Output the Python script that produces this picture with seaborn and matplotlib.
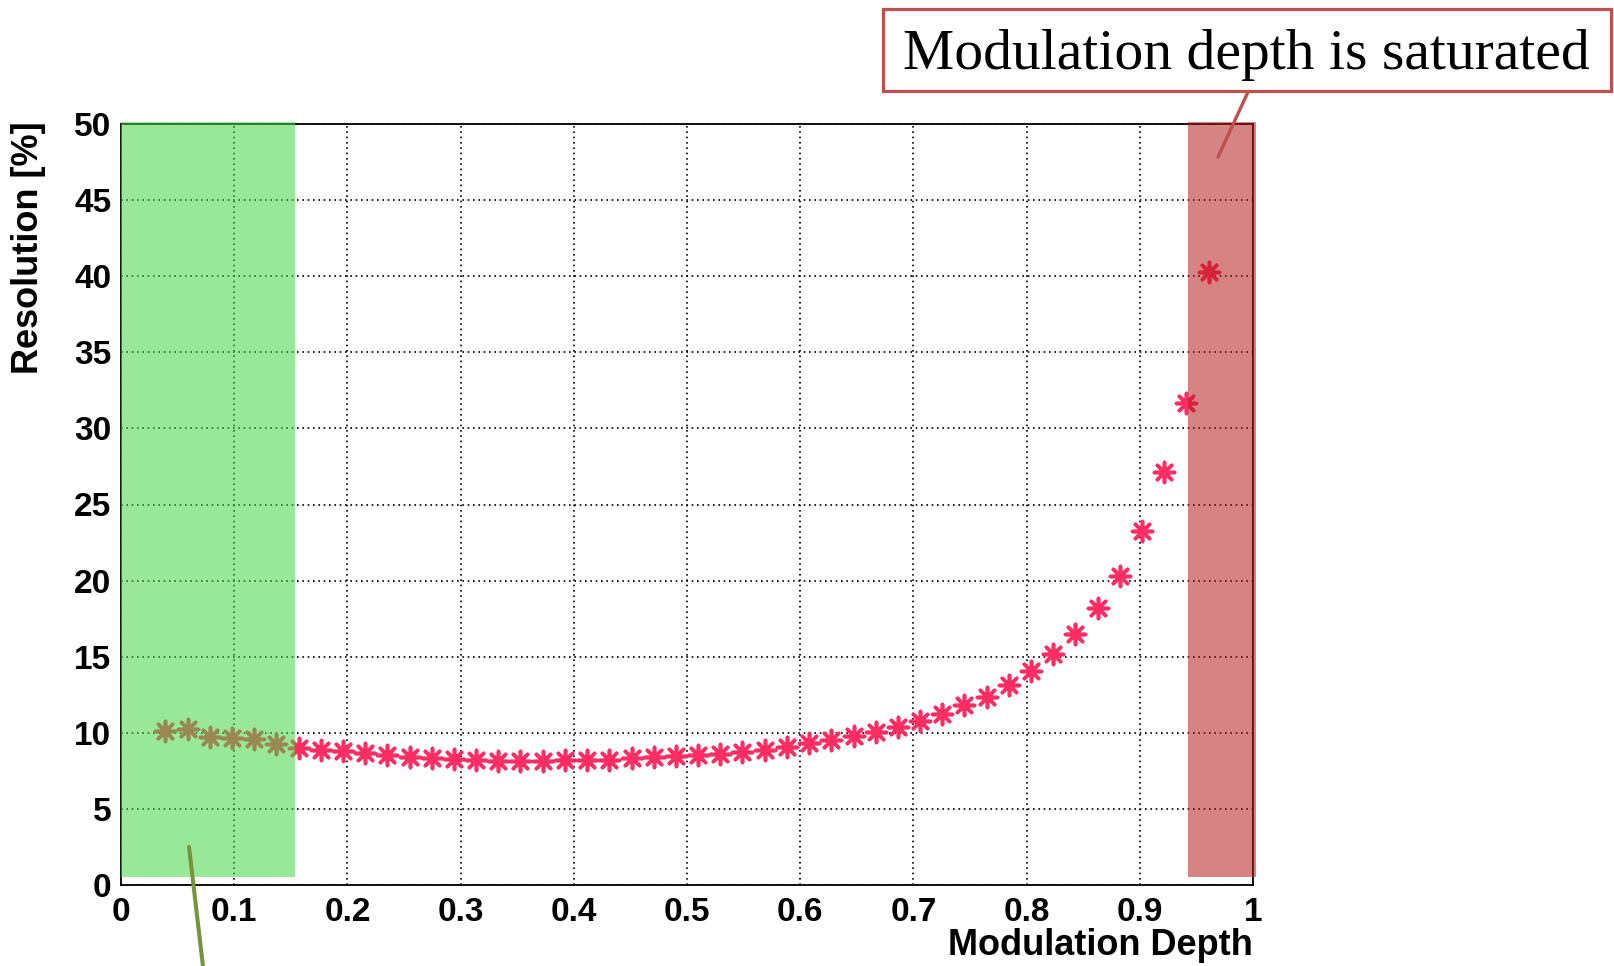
import matplotlib
matplotlib.use("Agg")
import matplotlib.pyplot as plt
from matplotlib.patches import Rectangle
from matplotlib.lines import Line2D
from matplotlib.ticker import FixedLocator, MultipleLocator
import pandas as pd
import seaborn as sns

# ---------------- data ----------------
modulation_depth = [0.0392, 0.0588, 0.0784, 0.0980, 0.1176, 0.1373, 0.1569, 0.1765,
                    0.1961, 0.2157, 0.2353, 0.2549, 0.2745, 0.2941, 0.3137, 0.3333,
                    0.3529, 0.3725, 0.3922, 0.4118, 0.4314, 0.4510, 0.4706, 0.4902,
                    0.5098, 0.5294, 0.5490, 0.5686, 0.5882, 0.6078, 0.6275, 0.6471,
                    0.6667, 0.6863, 0.7059, 0.7255, 0.7451, 0.7647, 0.7843, 0.8039,
                    0.8235, 0.8431, 0.8627, 0.8824, 0.9020, 0.9216, 0.9412, 0.9608]
resolution = [10.13, 10.22, 9.73, 9.63, 9.58, 9.25, 8.97, 8.85,
              8.79, 8.67, 8.52, 8.41, 8.37, 8.29, 8.23, 8.14,
              8.18, 8.18, 8.19, 8.21, 8.23, 8.34, 8.41, 8.45,
              8.52, 8.63, 8.77, 8.90, 9.07, 9.30, 9.52, 9.78,
              10.07, 10.40, 10.80, 11.24, 11.84, 12.35, 13.17, 14.05,
              15.16, 16.47, 18.18, 20.30, 23.26, 27.15, 31.65, 40.30]
x_ticks = [0, 0.1, 0.2, 0.3, 0.4, 0.5, 0.6, 0.7, 0.8, 0.9, 1.0]
x_tick_labels = ["0", "0.1", "0.2", "0.3", "0.4", "0.5", "0.6", "0.7", "0.8", "0.9", "1"]
y_ticks = [0, 5, 10, 15, 20, 25, 30, 35, 40, 45, 50]
y_tick_labels = ["0", "5", "10", "15", "20", "25", "30", "35", "40", "45", "50"]
x_title = "Modulation Depth"
y_title = "Resolution [%]"
callout_text = "Modulation depth is saturated"
low_region = (0.0, 0.1534)          # green shaded band (x range)
saturated_region = (0.9424, 1.003)  # red shaded band (x range)

df = pd.DataFrame({"depth": modulation_depth, "res": resolution})

# ---------------- style ----------------
sns.set_style("white")
plt.rcParams["font.family"] = ["Liberation Sans", "DejaVu Sans"]
plt.rcParams["text.color"] = "black"
plt.rcParams["axes.labelcolor"] = "black"
plt.rcParams["xtick.color"] = "black"
plt.rcParams["ytick.color"] = "black"

W, H = 1614, 966
fig = plt.figure(figsize=(W / 100, H / 100), dpi=100)
ax = fig.add_axes([121 / W, 1 - 885 / H, 1132 / W, 761 / H])

sns.scatterplot(data=df, x="depth", y="res", ax=ax, marker=(8, 2, 0),
                color="#ff2d62", s=210, linewidth=2.6, zorder=4, legend=False)

ax.set_xlim(0, 1)
ax.set_ylim(0, 50)

ax.xaxis.set_major_locator(FixedLocator(x_ticks))
ax.set_xticklabels(x_tick_labels)
ax.xaxis.set_minor_locator(MultipleLocator(0.02))
ax.yaxis.set_major_locator(FixedLocator(y_ticks))
ax.set_yticklabels(y_tick_labels)
ax.yaxis.set_minor_locator(MultipleLocator(1))

for lab in ax.get_xticklabels() + ax.get_yticklabels():
    lab.set_fontweight("bold")
    lab.set_fontsize(24)
    lab.set_color("black")

ax.tick_params(axis="x", which="major", direction="in", length=18, width=1.0,
               color="black", labelcolor="black", pad=8.5)
ax.tick_params(axis="x", which="minor", direction="in", length=8, width=1.0, color="black")
ax.tick_params(axis="y", which="major", direction="in", length=24, width=1.0,
               color="black", labelcolor="black", pad=7)
ax.tick_params(axis="y", which="minor", direction="in", length=13, width=1.0, color="black")

ax.grid(True, which="major", color="black", linestyle=(0, (1, 2.2)), linewidth=1.2)

for sp in ax.spines.values():
    sp.set_visible(True)
    sp.set_color("black")
    sp.set_linewidth(1.3)

ax.set_xlabel(x_title, fontsize=26, fontweight="bold", loc="right", color="black")
ax.xaxis.set_label_coords(1.0, -0.057)
ax.xaxis.label.set_verticalalignment("top")
ax.set_ylabel(y_title, fontsize=26, fontweight="bold", loc="top", color="black")
ax.yaxis.set_label_coords(-0.066, 1.004)

# ---------------- shaded overlays ----------------
ax.add_patch(Rectangle((low_region[0], 0.5), low_region[1] - low_region[0], 49.61,
                       facecolor=(70 / 255, 212 / 255, 70 / 255), alpha=0.55,
                       edgecolor="none", zorder=10, clip_on=False))
ax.add_patch(Rectangle((saturated_region[0], 0.5), saturated_region[1] - saturated_region[0], 49.61,
                       facecolor=(180 / 255, 26 / 255, 26 / 255), alpha=0.54,
                       edgecolor="none", zorder=10, clip_on=False))

# ---------------- callouts ----------------
fig.add_artist(Rectangle((883 / W, 1 - 91 / H), (1611 - 883) / W, 82 / H,
                         transform=fig.transFigure, facecolor="white",
                         edgecolor="#C0504D", linewidth=2.3, zorder=20))
fig.text(1246 / W, 1 - 69 / H, callout_text, ha="center", va="baseline",
         fontsize=41.5, family=["Liberation Serif", "DejaVu Serif"], color="black", zorder=21)
fig.add_artist(Line2D([1248 / W, 1218 / W], [1 - 92 / H, 1 - 157 / H],
                      transform=fig.transFigure, color="#C0504D", linewidth=2.4, zorder=19))
fig.add_artist(Line2D([189 / W, 204 / W], [1 - 847 / H, 1 - 975 / H],
                      transform=fig.transFigure, color="#77933C", linewidth=2.9, zorder=19))

fig.savefig("out.png", dpi=100)
